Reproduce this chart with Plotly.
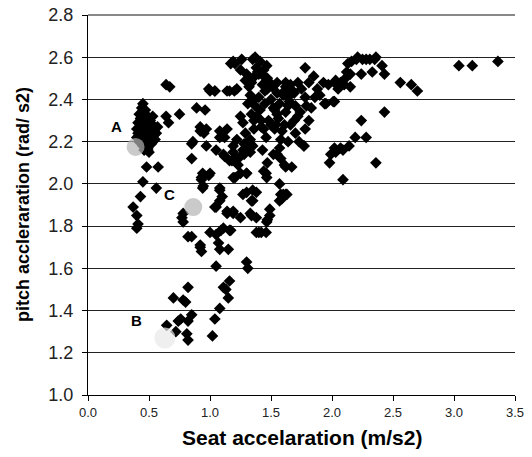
import plotly.graph_objects as go

# ---- data: seat acceleration (m/s2) vs pitch acceleration (rad/s2) ----
seat_x = [
    # cluster A
    0.45, 0.44, 0.47, 0.42, 0.46, 0.49, 0.43, 0.47, 0.51, 0.41, 0.44, 0.49, 0.53, 0.42, 0.46, 0.50,
    0.44, 0.48, 0.52, 0.41, 0.45, 0.49, 0.54, 0.43, 0.47, 0.51, 0.44, 0.48, 0.52, 0.45, 0.49, 0.46,
    0.50, 0.42, 0.55, 0.40, 0.48, 0.45, 0.53, 0.40, 0.56, 0.55, 0.57,
    # left column below A
    0.48, 0.575, 0.45, 0.56, 0.43, 0.37, 0.40, 0.41, 0.40, 0.49,
    # right of A
    0.64, 0.67, 0.64, 0.66, 0.75, 0.85,
    # near C
    0.78, 0.78, 0.82, 0.77,
    # near B
    0.70, 0.78, 0.82, 0.85, 0.82, 0.74, 0.645, 0.81, 0.82, 0.72, 0.80, 0.76,
    # lower middle column
    1.02, 1.04, 1.08, 1.15, 1.11, 1.16, 1.13, 1.05, 1.30, 1.31, 0.92, 0.93, 1.07, 1.08, 1.15,
    1.00, 1.09, 1.16, 0.85, 1.38, 1.46, 1.05, 1.11, 1.17, 0.92,
    # middle (1.8 - 2.2)
    1.05, 1.11, 1.18, 1.19, 1.27, 1.35, 0.85, 0.93, 0.99, 0.945, 1.205, 1.30, 1.44, 1.465, 1.52,
    1.57, 1.61, 1.60, 1.57, 1.49, 1.465, 1.42, 1.40, 1.38, 1.35, 1.27, 1.34, 1.08, 1.10, 1.04,
    1.14, 1.19, 1.34, 1.25, 1.33, 1.38, 1.30, 1.35, 1.19, 1.25, 1.30, 1.33, 1.16, 1.19, 1.25,
    1.08, 1.14, 1.19, 1.08, 1.77, 0.94, 1.00, 0.93, 0.94, 1.08, 1.05, 1.47, 1.49, 1.59, 1.62,
    1.46, 1.62, 1.12, 1.22, 1.23, 1.28, 1.43, 1.47, 1.55, 1.58,
    # upper middle (2.2 - 2.6)
    1.205, 1.26, 1.37, 1.41, 1.465, 1.30, 1.39, 1.44, 1.29, 1.34, 1.49, 1.55, 1.62, 1.45, 1.55,
    1.60, 1.00, 1.04, 1.14, 1.20, 0.96, 1.25, 1.37, 1.41, 1.36, 1.42, 1.48, 1.55, 1.62, 1.61,
    1.53, 1.44, 1.36, 1.29, 1.14, 1.08, 1.12, 1.22, 1.33, 1.46, 1.58, 0.92, 0.95, 0.86, 0.97,
    0.89, 0.92, 0.97, 0.99, 1.04, 1.16, 1.22, 1.19, 1.17, 1.25, 1.35, 1.38, 1.35, 1.32, 1.40,
    1.43, 1.47, 1.33, 1.36, 1.40, 1.45, 1.50, 1.52, 1.57, 1.64, 1.31, 1.34, 1.38, 1.42, 1.27,
    1.50, 1.53, 1.56, 1.59, 1.65, 1.68, 1.47, 1.51, 1.44, 1.28, 1.32,
    # right cluster
    1.78, 1.85, 1.93, 1.97, 1.81, 1.72, 1.66, 1.62, 1.75, 1.69, 1.61, 1.64, 1.78, 1.86, 1.94,
    2.01, 1.70, 1.79, 1.83, 1.72, 1.81, 1.78, 1.66, 1.70, 1.64, 1.77, 1.54, 1.74, 1.88, 1.90,
    2.20, 2.13, 2.28, 2.35, 2.41, 2.43, 2.24, 2.33, 2.15, 2.11, 2.07, 2.02, 2.05, 2.15, 2.56,
    2.21, 2.16, 2.12, 2.25, 2.31, 2.36, 2.03, 2.10, 2.65, 2.70, 3.04, 3.15, 3.36,
    2.43, 2.24, 2.19, 2.28, 2.36, 2.14, 2.09, 2.03, 1.99, 1.98, 2.09, 2.02, 2.07,
    1.95, 2.02, 1.67, 1.73, 1.69, 1.58, 1.63, 1.57,
]
pitch_y = [
    # cluster A
    2.38, 2.36, 2.35, 2.33, 2.33, 2.32, 2.31, 2.30, 2.30, 2.29, 2.29, 2.28, 2.28, 2.27, 2.27, 2.26,
    2.25, 2.25, 2.25, 2.24, 2.23, 2.23, 2.23, 2.22, 2.21, 2.21, 2.20, 2.19, 2.19, 2.18, 2.17, 2.16,
    2.15, 2.20, 2.26, 2.26, 2.31, 2.21, 2.32, 2.22, 2.24, 2.21, 2.27,
    # left column below A
    2.08, 2.08, 2.01, 1.98, 1.94, 1.89, 1.85, 1.81, 1.79, 2.16,
    # right of A
    2.47, 2.46, 2.32, 2.29, 2.33, 2.19,
    # near C
    1.86, 1.82, 1.75, 1.84,
    # near B
    1.46, 1.45, 1.51, 1.38, 1.35, 1.35, 1.33, 1.29, 1.26, 1.30, 1.44, 1.36,
    # lower middle column
    1.28, 1.36, 1.41, 1.46, 1.51, 1.54, 1.50, 1.61, 1.63, 1.60, 1.70, 1.68, 1.72, 1.69, 1.69,
    1.77, 1.78, 1.78, 1.75, 1.77, 1.77, 1.76, 1.79, 1.78, 1.71,
    # middle (1.8 - 2.2)
    2.16, 2.14, 2.11, 2.18, 2.16, 2.18, 2.12, 2.03, 2.04, 1.99, 2.03, 2.05, 2.06, 2.03, 2.14,
    2.17, 2.09, 1.95, 1.92, 1.88, 1.82, 1.77, 1.77, 1.96, 1.97, 1.95, 1.92, 1.98, 1.94, 1.89,
    1.86, 1.86, 1.85, 1.84, 1.86, 1.84, 1.96, 1.92, 2.15, 2.13, 2.05, 2.15, 2.11, 2.03, 2.05,
    1.97, 1.87, 1.87, 1.92, 2.18, 2.05, 2.05, 2.02, 1.98, 2.22, 1.89, 1.83, 1.85, 1.93, 1.95,
    2.05, 2.08, 2.13, 2.12, 2.09, 2.14, 2.16, 2.10, 2.14, 2.12,
    # upper middle (2.2 - 2.6)
    2.57, 2.59, 2.60, 2.58, 2.56, 2.52, 2.53, 2.51, 2.49, 2.48, 2.48, 2.48, 2.48, 2.44, 2.43,
    2.42, 2.44, 2.44, 2.44, 2.44, 2.35, 2.32, 2.37, 2.35, 2.30, 2.30, 2.30, 2.33, 2.34, 2.28,
    2.26, 2.26, 2.26, 2.24, 2.26, 2.25, 2.22, 2.21, 2.21, 2.22, 2.21, 2.27, 2.24, 2.20, 2.18,
    2.36, 2.25, 2.26, 2.45, 2.44, 2.44, 2.45, 2.58, 2.57, 2.54, 2.59, 2.55, 2.50, 2.46, 2.52,
    2.47, 2.45, 2.42, 2.40, 2.41, 2.38, 2.40, 2.36, 2.38, 2.37, 2.38, 2.33, 2.32, 2.27, 2.29,
    2.28, 2.35, 2.31, 2.25, 2.39, 2.44, 2.50, 2.46, 2.54, 2.19, 2.17,
    # right cluster
    2.55, 2.51, 2.48, 2.47, 2.48, 2.48, 2.47, 2.46, 2.45, 2.43, 2.44, 2.41, 2.41, 2.41, 2.38,
    2.39, 2.37, 2.37, 2.36, 2.32, 2.30, 2.26, 2.28, 2.24, 2.20, 2.18, 2.28, 2.34, 2.45, 2.42,
    2.59, 2.57, 2.59, 2.59, 2.56, 2.52, 2.52, 2.53, 2.52, 2.50, 2.48, 2.48, 2.45, 2.46, 2.48,
    2.60, 2.58, 2.53, 2.59, 2.59, 2.60, 2.49, 2.47, 2.47, 2.44, 2.56, 2.56, 2.58,
    2.34, 2.30, 2.22, 2.22, 2.10, 2.18, 2.16, 2.15, 2.14, 2.10, 2.02, 2.17, 2.17,
    2.38, 2.39, 2.08, 2.20, 2.30, 1.95, 1.95, 2.00,
]

# highlighted cases
case_labels = ["A", "B", "C"]
case_x = [0.39, 0.63, 0.863]
case_y = [2.175, 1.27, 1.89]
case_label_x = [0.235, 0.40, 0.67]
case_label_y = [2.27, 1.355, 1.95]
case_colors = ["#b4b4b4", "#e8e8e8", "#b4b4b4"]
case_sizes = [18, 21, 18]

x_ticks = [0.0, 0.5, 1.0, 1.5, 2.0, 2.5, 3.0, 3.5]
y_ticks = [1.0, 1.2, 1.4, 1.6, 1.8, 2.0, 2.2, 2.4, 2.6, 2.8]

x_title = "Seat accelaration (m/s2)"
y_title = "pitch accleraration (rad/ s2)"

FONT = "Arial, 'Liberation Sans', sans-serif"

fig = go.Figure()
fig.add_trace(go.Scatter(
    x=seat_x, y=pitch_y, mode="markers",
    marker=dict(symbol="diamond", size=9, color="black", line=dict(width=0)),
    showlegend=False, hoverinfo="x+y",
))
fig.add_trace(go.Scatter(
    x=case_x, y=case_y, mode="markers",
    marker=dict(symbol="circle", size=case_sizes, color=case_colors, line=dict(width=0)),
    showlegend=False,
))
for lab, lx, ly in zip(case_labels, case_label_x, case_label_y):
    fig.add_annotation(x=lx, y=ly, text="<b>%s</b>" % lab, showarrow=False,
                       font=dict(family=FONT, size=15, color="black"))

# axis titles
fig.add_annotation(xref="paper", yref="paper", x=0.501, y=-0.113, text="<b>%s</b>" % x_title,
                   showarrow=False, xanchor="center", yanchor="middle",
                   font=dict(family=FONT, size=21, color="black"))
fig.add_annotation(xref="paper", yref="paper", x=-0.152, y=0.50, text="<b>%s</b>" % y_title,
                   showarrow=False, xanchor="center", yanchor="middle", textangle=-90,
                   font=dict(family=FONT, size=18, color="black"))

fig.update_layout(
    width=532, height=457,
    margin=dict(l=88, r=17, t=15, b=62),
    paper_bgcolor="white", plot_bgcolor="white",
    font=dict(family=FONT, color="black"),
    xaxis=dict(
        range=[0, 3.5], tickvals=x_ticks, ticktext=["%.1f" % v for v in x_ticks],
        showgrid=False, zeroline=False, showline=True, linecolor="black", linewidth=1,
        ticks="outside", ticklen=5, tickcolor="black", tickfont=dict(size=13, color="#222"),
        automargin=False,
    ),
    yaxis=dict(
        range=[1.0, 2.8], tickvals=y_ticks, ticktext=["%.1f" % v for v in y_ticks],
        showgrid=True, gridcolor="#222", gridwidth=1, zeroline=False,
        showline=True, linecolor="black", linewidth=1,
        ticks="outside", ticklen=5, tickcolor="black", tickfont=dict(size=18, color="#222"),
        ticklabelstandoff=5, automargin=False,
    ),
    shapes=[dict(type="line", xref="paper", yref="paper", x0=0, x1=1, y0=1, y1=1,
                 line=dict(color="#888", width=2))],
)

fig.write_html("out.html", config={"displayModeBar": False},
               post_script="document.body.style.margin='0';document.body.style.overflow='hidden';")
